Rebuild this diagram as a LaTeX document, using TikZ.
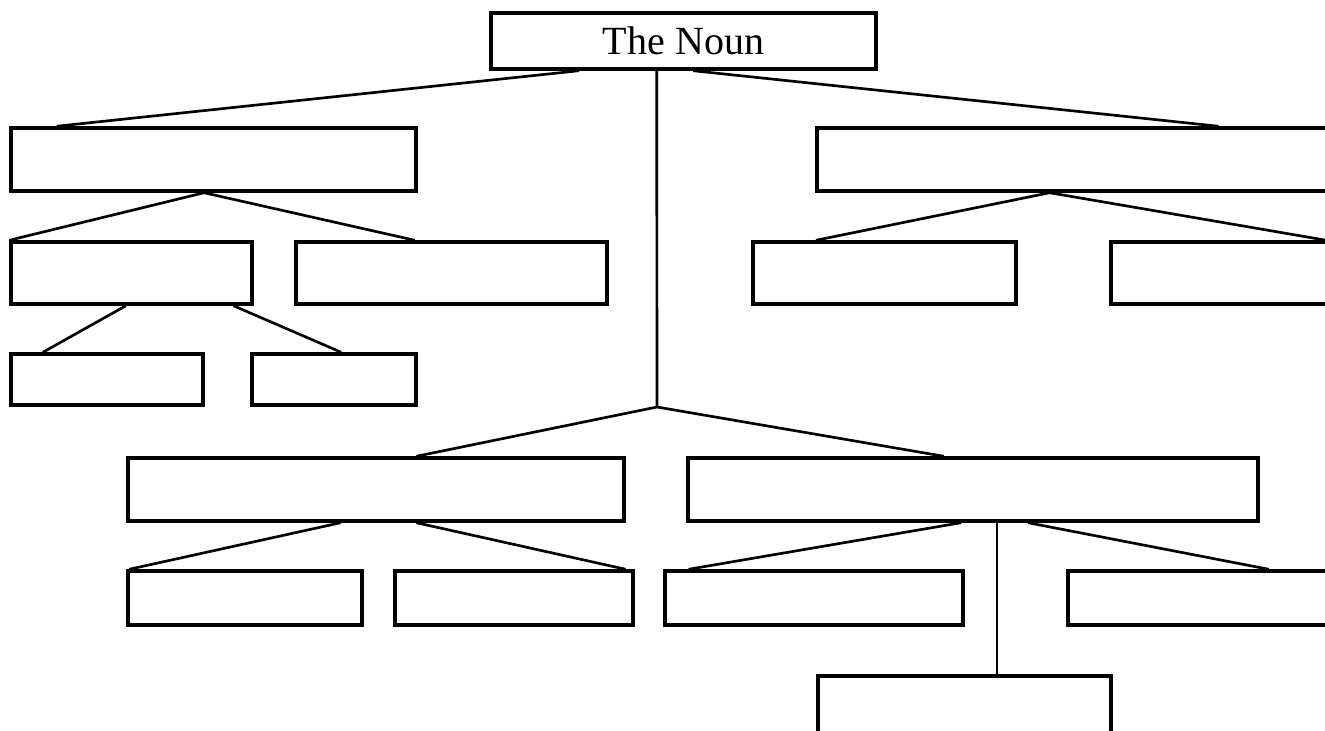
\documentclass[tikz,border=0pt]{standalone}
\usepackage{fontspec}
\setmainfont{Liberation Serif}
\usetikzlibrary{fit,calc}
% points along the bottom / top edge of a box
\newcommand\bedge[2]{($(#1.south west)!#2!(#1.south east)$)}
\newcommand\tedge[2]{($(#1.north west)!#2!(#1.north east)$)}
\begin{document}
\begin{tikzpicture}[x=0.75pt,y=-0.75pt,
  box/.style={draw, line width=2.6pt, inner sep=0pt, rectangle},
  link/.style={line width=2pt}]
\useasboundingbox (0,0) rectangle (1325,731);
\fill[white] (0,0) rectangle (1325,731);
\clip (0,0) rectangle (1325,731);

% root
\node[box, minimum width=288.75pt, minimum height=42pt,
      font=\fontsize{30}{36}\selectfont] (noun) at (683.5,41) {The Noun};

% left branch
\node[box, fit={(11,128) (416,191)}] (l1) {};
\node[box, fit={(11,242) (252,304)}] (l2a) {};
\node[box, fit={(296,242) (607,304)}] (l2b) {};
\node[box, fit={(11,354) (203,405)}] (l3a) {};
\node[box, fit={(252,354) (416,405)}] (l3b) {};

% right branch
\node[box, fit={(817,128) (1360,191)}] (r1) {};
\node[box, fit={(753,242) (1016,304)}] (r2a) {};
\node[box, fit={(1111,242) (1360,304)}] (r2b) {};

% centre branch
\coordinate (j) at (657,407);
\node[box, fit={(128,458) (624,521)}] (c1) {};
\node[box, fit={(688,458) (1258,521)}] (c2) {};
\node[box, fit={(128,571) (362,625)}] (c1a) {};
\node[box, fit={(395,571) (633,625)}] (c1b) {};
\node[box, fit={(665,571) (963,625)}] (c2a) {};
\node[box, fit={(1068,571) (1360,625)}] (c2b) {};
\node[box, fit={(818,676) (1111,770)}] (c2c) {};

% connectors
\draw[link] \bedge{noun}{0.231} -- \tedge{l1}{0.116};
\draw[link] \bedge{noun}{0.525} -- \tedge{r1}{0.738};
\draw[link] \bedge{noun}{0.431} -- (j);

\draw[link] \bedge{l1}{0.477} -- (l2a.north west);
\draw[link] \bedge{l1}{0.477} -- \tedge{l2b}{0.383};
\draw[link] \bedge{l2a}{0.477} -- \tedge{l3a}{0.172};
\draw[link] \bedge{l2a}{0.917} -- \tedge{l3b}{0.543};

\draw[link] \bedge{r1}{0.429} -- \tedge{r2a}{0.243};
\draw[link] \bedge{r1}{0.429} -- \tedge{r2b}{0.859};

\draw[link] (j) -- \tedge{c1}{0.581};
\draw[link] (j) -- \tedge{c2}{0.449};

\draw[link] \bedge{c1}{0.429} -- \tedge{c1a}{0.013};
\draw[link] \bedge{c1}{0.581} -- \tedge{c1b}{0.962};

\draw[link] \bedge{c2}{0.479} -- \tedge{c2a}{0.084};
\draw[link] \bedge{c2}{0.596} -- \tedge{c2b}{0.685};
\path ($(c2.south west)!0.542!(c2.south east)$) coordinate (c2stem);
\draw[link] (c2stem) -- (c2stem |- c2c.north);
\end{tikzpicture}
\end{document}
